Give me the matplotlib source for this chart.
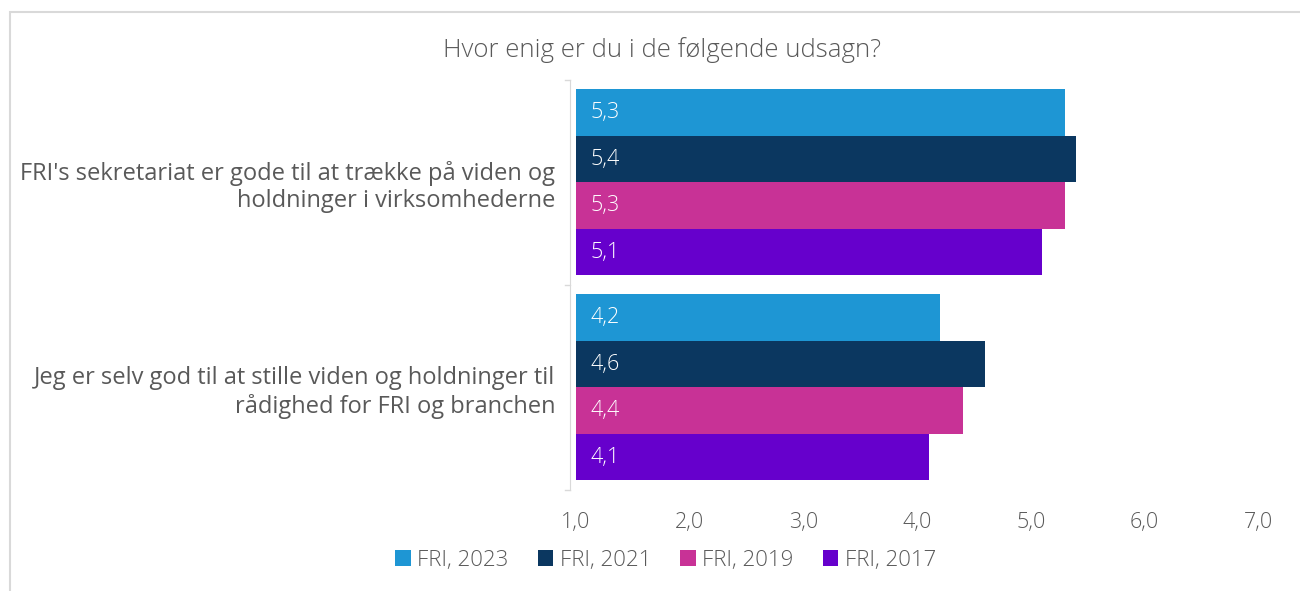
import matplotlib.pyplot as plt
from matplotlib.patches import Rectangle
import numpy as np

plt.rcParams['font.family'] = ['Open Sans', 'DejaVu Sans']

title = "Hvor enig er du i de følgende udsagn?"
statements = ["FRI's sekretariat er gode til at trække på viden og\nholdninger i virksomhederne",
              "Jeg er selv god til at stille viden og holdninger til\nrådighed for FRI og branchen"]
series = ["FRI, 2023", "FRI, 2021", "FRI, 2019", "FRI, 2017"]
vals_2023 = [5.3, 4.2]
vals_2021 = [5.4, 4.6]
vals_2019 = [5.3, 4.4]
vals_2017 = [5.1, 4.1]
colors = ["#1E96D4", "#0B3760", "#C83296", "#6600CC"]
xticks = [1, 2, 3, 4, 5, 6, 7]

txt = "#595959"
fw = "light"
fig = plt.figure(figsize=(13, 5.91), dpi=100)
ax = fig.add_axes([0.443, 0.171, 0.525, 0.694])

# outer chart border
fig.patches.append(Rectangle((10/1300, -0.05), 1.2, 1 - 12/591 + 0.05, transform=fig.transFigure,
                             fill=False, edgecolor="#d9d9d9", linewidth=1.5))

bh = 0.2267
all_vals = [vals_2023, vals_2021, vals_2019, vals_2017]
for i, (name, v, c) in enumerate(zip(series, all_vals, colors)):
    y = np.arange(len(statements)) + (i - 1.5) * bh
    ax.barh(y, np.array(v) - 1, left=1, height=bh, color=c, label=name)
    for yy, val in zip(y, v):
        ax.text(1.13, yy, f"{val:.1f}".replace(".", ","), color="white",
                fontsize=15.5, fontweight=fw, va="center", ha="left")

ax.set_xlim(1, 7)
ax.set_ylim(1.5, -0.5)
ax.set_xticks(xticks)
ax.set_xticklabels([f"{t:.1f}".replace(".", ",") for t in xticks])
ax.set_yticks([0, 1])
ax.set_yticklabels(statements, ha="right", multialignment="center")
ax.tick_params(axis="x", length=0, pad=16, labelsize=15.5, labelcolor=txt)
ax.tick_params(axis="y", length=0, pad=11, labelsize=17, labelcolor=txt)
for lab in ax.get_xticklabels() + ax.get_yticklabels():
    lab.set_fontweight(fw)
for s in ["top", "right", "bottom"]:
    ax.spines[s].set_visible(False)
ax.spines["left"].set_color("#d9d9d9")
ax.spines["left"].set_position(("axes", -0.008))
for yb in [-0.5, 0.5, 1.5]:
    ax.plot([-0.016, -0.008], [yb, yb], transform=ax.get_yaxis_transform(),
            color="#d9d9d9", lw=1, clip_on=False)

fig.text(0.509, 0.916, title, ha="center", va="center", fontsize=18.5, color=txt, fontweight=fw)
leg = fig.legend(loc="center", bbox_to_anchor=(0.512, 0.052), ncol=4, frameon=False,
                 handlelength=0.7, handleheight=0.7, handletextpad=0.3, columnspacing=1.3,
                 prop={"size": 16, "weight": fw})
for t in leg.get_texts():
    t.set_color(txt)

fig.savefig("out.png", dpi=100)
